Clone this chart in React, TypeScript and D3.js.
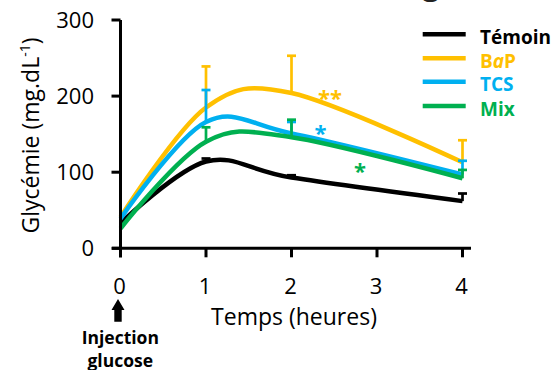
import React from "react";
import * as d3 from "d3";

// Blood glucose after glucose injection, mean + upper SEM bar
const hours = [0, 1, 2, 4];
const xTicks = [0, 1, 2, 3, 4];
const yTicks = [0, 100, 200, 300];

const temoinMeans = [33, 114, 93, 62];
const temoinErr = [0, 4, 3, 10];
const bapMeans = [41, 185, 204, 113];
const bapErr = [0, 54, 49, 29];
const tcsMeans = [39, 166, 151, 97];
const tcsErr = [0, 42, 15, 18];
const mixMeans = [26, 140, 146, 92];
const mixErr = [0, 19, 23, 11];

const seriesNames = ["Témoin", "BaP", "TCS", "Mix"];
const seriesColors = ["#000000", "#FFC000", "#00B0F0", "#00B050"];

const W = 554;
const H = 370;
const FONT = "'Open Sans', 'Liberation Sans', sans-serif";

export default function App() {
  const x = d3.scaleLinear().domain([0, 4]).range([120.5, 462.5]);
  const y = d3.scaleLinear().domain([0, 300]).range([248.3, 20]);

  const series = [
    { name: seriesNames[0], color: seriesColors[0], means: temoinMeans, err: temoinErr },
    { name: seriesNames[1], color: seriesColors[1], means: bapMeans, err: bapErr },
    { name: seriesNames[2], color: seriesColors[2], means: tcsMeans, err: tcsErr },
    { name: seriesNames[3], color: seriesColors[3], means: mixMeans, err: mixErr },
  ];

  const line = d3
    .line<number>()
    .x((_, i) => x(hours[i]))
    .y((v) => y(v))
    .curve(d3.curveCardinal.tension(0));

  const capHalf = 4.5;

  // significance marks placed in data space (v = glyph centre)
  const stars = [
    { text: "**", color: seriesColors[1], h: 2.45, v: 202 },
    { text: "*", color: seriesColors[2], h: 2.34, v: 155 },
    { text: "*", color: seriesColors[3], h: 2.8, v: 105 },
  ];

  const legendY = [34.3, 58.3, 81.7, 106];

  return (
    <svg
      width={W}
      height={H}
      viewBox={`0 0 ${W} ${H}`}
      style={{ position: "absolute", left: 0, top: 0, background: "#fff" }}
    >
      {/* descender of the panel title above the frame */}
      <text x={431} y={-5} fontFamily={FONT} fontSize={30} fontWeight={700} textAnchor="middle" fill="#222">
        g
      </text>

      {/* series curves */}
      {series.map((s) => (
        <path
          key={s.name}
          d={line(s.means) || ""}
          fill="none"
          stroke={s.color}
          strokeWidth={4.5}
          strokeLinejoin="round"
        />
      ))}

      {/* axes */}
      <g stroke="#000" strokeWidth={3} fill="none">
        <line x1={x(0)} x2={x(0)} y1={y(300)} y2={y(0) + 9} />
        <line x1={112} x2={471} y1={y(0)} y2={y(0)} />
        {yTicks.map((t) => (
          <line key={"yt" + t} x1={111.5} x2={x(0)} y1={y(t)} y2={y(t)} />
        ))}
        {xTicks.map((t) => (
          <line key={"xt" + t} x1={x(t)} x2={x(t)} y1={y(0)} y2={y(0) + 9} />
        ))}
      </g>

      {/* error bars (upper half) */}
      {series.map((s) =>
        s.means.map((m, i) =>
          s.err[i] > 0 ? (
            <g key={s.name + i} stroke={s.color} strokeWidth={2.7}>
              <line x1={x(hours[i])} x2={x(hours[i])} y1={y(m)} y2={y(m + s.err[i])} />
              <line
                x1={x(hours[i]) - capHalf}
                x2={x(hours[i]) + capHalf}
                y1={y(m + s.err[i])}
                y2={y(m + s.err[i])}
              />
            </g>
          ) : null
        )
      )}

      {/* y tick labels */}
      {yTicks.map((t) => (
        <text
          key={"yl" + t}
          x={94}
          y={y(t) + 8}
          textAnchor="end"
          fontFamily={FONT}
          fontSize={22}
          fill="#000"
        >
          {t}
        </text>
      ))}

      {/* x tick labels */}
      {xTicks.map((t) => (
        <text
          key={"xl" + t}
          x={x(t) - 1}
          y={293.5}
          textAnchor="middle"
          fontFamily={FONT}
          fontSize={22}
          fill="#000"
        >
          {t}
        </text>
      ))}

      {/* axis titles */}
      <text x={294} y={325} textAnchor="middle" fontFamily={FONT} fontSize={23} fill="#000">
        Temps (heures)
      </text>
      <text
        transform="translate(38.5,135.5) rotate(-90)"
        textAnchor="middle"
        fontFamily={FONT}
        fontSize={23}
        fill="#000"
      >
        Glycémie (mg.dL
        <tspan dy={-9} fontSize={14}>
          -1
        </tspan>
        <tspan dy={9}>)</tspan>
      </text>

      {/* injection marker */}
      <path
        d={`M ${x(0) - 2.5} 299 L ${x(0) + 4} 310 L ${x(0) + 1.2} 310 L ${x(0) + 1.2} 321.7 L ${x(0) - 6.2} 321.7 L ${x(0) - 6.2} 310 L ${x(0) - 9} 310 Z`}
        fill="#000"
      />
      <text x={120.3} y={344} textAnchor="middle" fontFamily={FONT} fontSize={17.5} fontWeight={700} fill="#000">
        Injection
      </text>
      <text x={120.3} y={367} textAnchor="middle" fontFamily={FONT} fontSize={17.5} fontWeight={700} fill="#000">
        glucose
      </text>

      {/* significance stars */}
      {stars.map((st, i) => (
        <text
          key={"st" + i}
          x={x(st.h)}
          y={y(st.v) + 11}
          textAnchor="middle"
          fontFamily={FONT}
          fontSize={22}
          fontWeight={700}
          fill={st.color}
        >
          {st.text}
        </text>
      ))}

      {/* legend */}
      {series.map((s, i) => (
        <g key={"lg" + s.name}>
          <line x1={422.7} x2={465.7} y1={legendY[i]} y2={legendY[i]} stroke={s.color} strokeWidth={4.5} />
          <text
            x={480}
            y={legendY[i] + 9.5}
            fontFamily={FONT}
            fontSize={19}
            fontWeight={700}
            fill={s.color}
          >
            {s.name === "BaP" ? (
              <>
                B<tspan fontStyle="italic">a</tspan>P
              </>
            ) : (
              s.name
            )}
          </text>
        </g>
      ))}
    </svg>
  );
}
